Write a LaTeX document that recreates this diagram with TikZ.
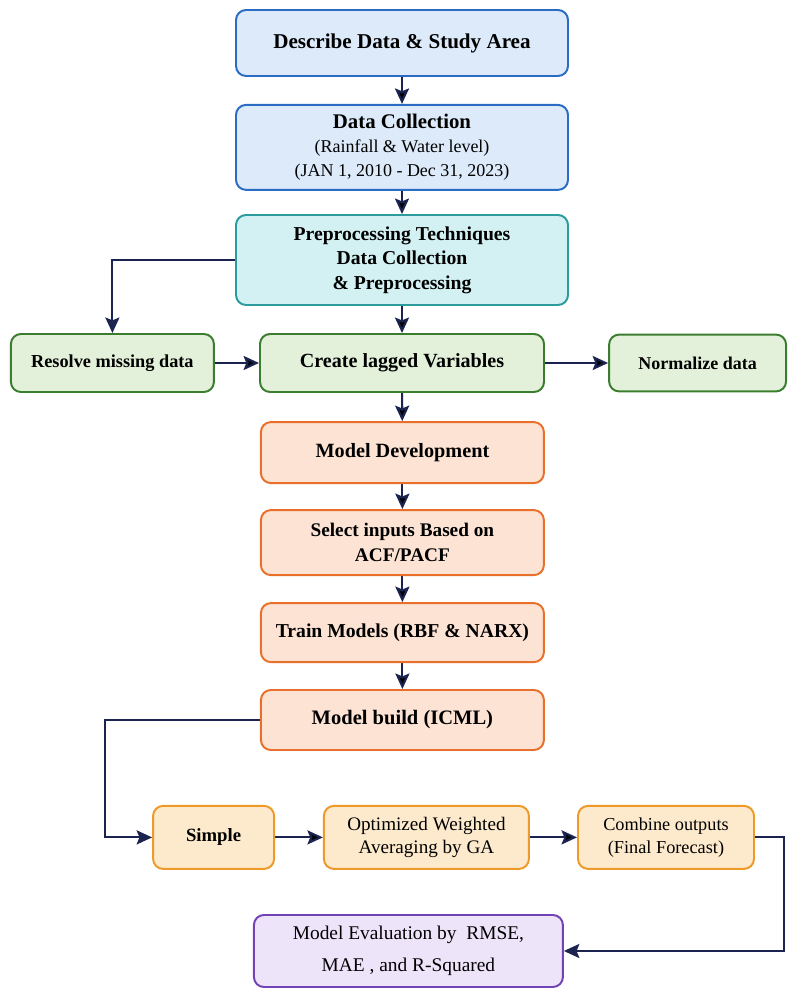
\documentclass[tikz,border=0pt]{standalone}
\usepackage{fontspec}
\setmainfont{Liberation Serif}
\usepackage{tikz}
\usetikzlibrary{arrows.meta}
\pgfdeclarelayer{bg}
\pgfsetlayers{bg,main}
\definecolor{blueline}{HTML}{2A6CC4}
\definecolor{bluefill}{HTML}{DCEAF9}
\definecolor{tealline}{HTML}{2B9B9E}
\definecolor{tealfill}{HTML}{D3F1F3}
\definecolor{greenline}{HTML}{3B7D2E}
\definecolor{greenfill}{HTML}{E3F1DA}
\definecolor{orangeline}{HTML}{E8702A}
\definecolor{orangefill}{HTML}{FCE3D4}
\definecolor{amberline}{HTML}{EE9A2A}
\definecolor{amberfill}{HTML}{FDEACD}
\definecolor{purpleline}{HTML}{7243B5}
\definecolor{purplefill}{HTML}{EEE4FA}
\definecolor{arrowcol}{HTML}{1B2350}
\tikzset{
    box/.style={rectangle, rounded corners=0.25cm, line width=1.4pt, align=center, inner sep=1mm},
    bluebox/.style={box, draw=blueline, fill=bluefill},
    tealbox/.style={box, draw=tealline, fill=tealfill},
    greenbox/.style={box, draw=greenline, fill=greenfill},
    orangebox/.style={box, draw=orangeline, fill=orangefill},
    amberbox/.style={box, draw=amberline, fill=amberfill},
    purplebox/.style={box, draw=purpleline, fill=purplefill},
    bigtxt/.style={font=\fontsize{15}{17}\selectfont\bfseries},
    midtxt/.style={font=\fontsize{14}{17}\selectfont\bfseries},
    smalltxt/.style={font=\fontsize{13}{16.5}\selectfont},
    flow/.style={draw=arrowcol, line width=1.5pt, -{Stealth[length=11pt, width=10pt, inset=2pt]}}
}

\begin{document}
\begin{tikzpicture}
    \useasboundingbox (0cm, 0cm) rectangle (19.675cm, 24.725cm);

    \node (desc) [bluebox, bigtxt, minimum width=8.3cm, minimum height=1.65cm] at (10.05cm, 23.65cm) {Describe Data \& Study Area};
    \node (coll) [bluebox, font=\fontsize{12.8}{17}\selectfont, minimum width=8.3cm, minimum height=2.125cm] at (10.05cm, 21.04cm)
        {{\bfseries\fontsize{14.8}{17}\selectfont Data Collection}\\
         (Rainfall \& Water level)\\
         (JAN 1, 2010 - Dec 31, 2023)};
    \node (pre) [tealbox, font=\fontsize{14}{17.4}\selectfont\bfseries, minimum width=8.3cm, minimum height=2.25cm] at (10.05cm, 18.225cm)
        {\raisebox{0pt}[\height][\depth]{}Preprocessing Techniques\\Data Collection\\\& Preprocessing};

    \node (res) [greenbox, font=\fontsize{13}{16}\selectfont\bfseries, minimum width=5.075cm, minimum height=1.45cm] at (2.81cm, 15.65cm) {Resolve missing data};
    \node (lag) [greenbox, font=\fontsize{14.3}{17}\selectfont\bfseries, minimum width=7.1cm, minimum height=1.45cm] at (10.05cm, 15.65cm) {Create lagged Variables};
    \node (norm) [greenbox, font=\fontsize{12.8}{16}\selectfont\bfseries, minimum width=4.425cm, minimum height=1.42cm] at (17.44cm, 15.65cm) {Normalize data};

    \node (dev) [orangebox, font=\fontsize{14.4}{17}\selectfont\bfseries, minimum width=7.075cm, minimum height=1.525cm] at (10.06cm, 13.41cm) {Model Development};
    \node (sel) [orangebox, font=\fontsize{13.7}{17.8}\selectfont\bfseries, minimum width=7.075cm, minimum height=1.625cm] at (10.06cm, 11.16cm) {Select inputs Based on\\ACF/PACF};
    \node (train) [orangebox, midtxt, minimum width=7.075cm, minimum height=1.475cm] at (10.06cm, 8.91cm) {Train Models (RBF \& NARX)};
    \node (build) [orangebox, font=\fontsize{14.6}{17}\selectfont\bfseries, minimum width=7.075cm, minimum height=1.5cm] at (10.06cm, 6.725cm) {Model build (ICML)};

    \node (simp) [amberbox, font=\fontsize{13.3}{16}\selectfont\bfseries, minimum width=3.025cm, minimum height=1.575cm] at (5.34cm, 3.79cm) {Simple};
    \node (opt) [amberbox, font=\fontsize{13.6}{16.5}\selectfont, minimum width=5.125cm, minimum height=1.575cm] at (10.66cm, 3.79cm) {Optimized Weighted\\Averaging by GA};
    \node (comb) [amberbox, smalltxt, minimum width=4.4cm, minimum height=1.575cm] at (16.65cm, 3.79cm) {Combine outputs\\(Final Forecast)};

    \node (eval) [purplebox, font=\fontsize{13.8}{23}\selectfont, minimum width=7.725cm, minimum height=1.8cm] at (10.21cm, 0.95cm) {Model Evaluation by\ \ RMSE,\\MAE , and R-Squared};

    \coordinate (bend1) at (2.625cm, 6.725cm);
    \coordinate (bend2) at (19.6cm, 3.79cm);

    \begin{pgfonlayer}{bg}
        \draw [flow] (desc) edge (coll);
        \draw [flow] (coll) edge (pre);
        \draw [flow] (pre) edge (lag);
        \draw [flow] (pre.west) -| (res.north);
        \draw [flow] (res) edge (lag);
        \draw [flow] (lag) edge (norm);

        \draw [flow] (lag) edge (dev);
        \draw [flow] (dev) edge (sel);
        \draw [flow] (sel) edge (train);
        \draw [flow] (train) edge (build);

        \draw [flow] (build.west) -- (bend1) |- (simp.west);
        \draw [flow] (simp) edge (opt);
        \draw [flow] (opt) edge (comb);
        \draw [flow] (comb.east) -- (bend2) |- (eval.east);
    \end{pgfonlayer}
\end{tikzpicture}
\end{document}
